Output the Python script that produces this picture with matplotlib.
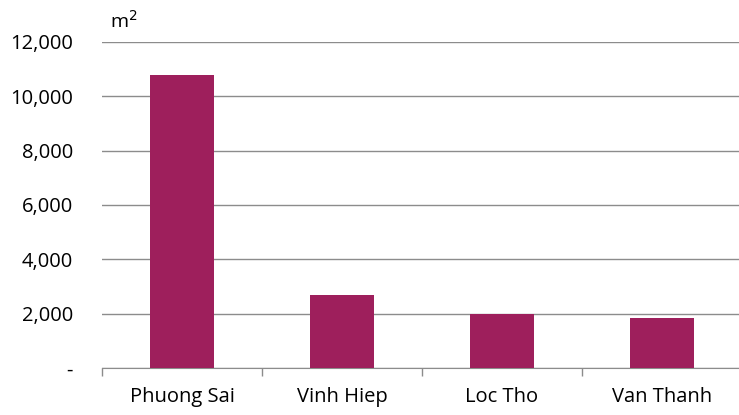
import numpy as np
import matplotlib
matplotlib.use("Agg")
import matplotlib.pyplot as plt
from matplotlib.ticker import FuncFormatter

# data
wards = ["Phuong Sai", "Vinh Hiep", "Loc Tho", "Van Thanh"]
area = [10800, 2690, 1990, 1830]
yticks = [0, 2000, 4000, 6000, 8000, 10000, 12000]

plt.rcParams['font.family'] = ['Open Sans', 'DejaVu Sans']

fig = plt.figure(figsize=(7.39, 4.15), dpi=100)
ax = fig.add_axes([0.138, 0.1133, 0.866, 0.7855])

x = np.arange(len(wards))
ax.bar(x, area, width=0.4, color="#9E1F5C", zorder=3)

ax.set_xlim(-0.5, len(wards) - 0.5)
ax.set_ylim(0, 12000)
ax.set_yticks(yticks)
ax.yaxis.set_major_formatter(FuncFormatter(lambda v, p: "-" if v == 0 else f"{int(v):,}"))
ax.grid(axis="y", color="#8c8c8c", linewidth=1, zorder=0)
ax.tick_params(axis="y", length=0, pad=21, labelsize=14.5, colors="black")

# category labels centred, boundary tick marks
ax.set_xticks(x)
ax.set_xticklabels(wards, fontsize=14.5)
ax.set_xticks(np.arange(len(wards)) - 0.5, minor=True)
ax.tick_params(axis="x", which="major", length=0, pad=14)
ax.tick_params(axis="x", which="minor", length=6, color="#8c8c8c", width=1)

for s in ["top", "right", "left"]:
    ax.spines[s].set_visible(False)
ax.spines["bottom"].set_color("#8c8c8c")

ax.text(0.012, 1.03, "m$^2$", transform=ax.transAxes, fontsize=14, va="bottom")

fig.savefig("out.png", dpi=100)
